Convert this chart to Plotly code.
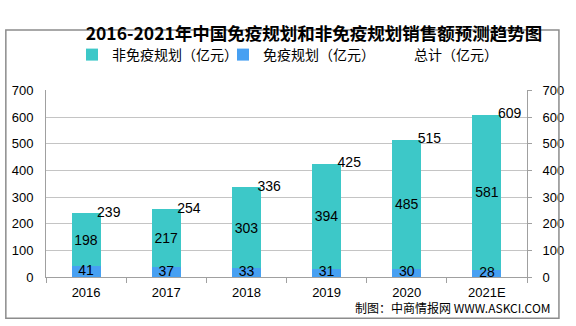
import plotly.graph_objects as go

years = ['2016', '2017', '2018', '2019', '2020', '2021E']
immune = [41, 37, 33, 31, 30, 28]
non_immune = [198, 217, 303, 394, 485, 581]
total = [239, 254, 336, 425, 515, 609]

TEAL = '#3DC8C8'
BLUE = '#47A0F2'
NUM_FONT = 'Liberation Sans, Noto Sans CJK SC, sans-serif'
CJK_FONT = 'Noto Sans CJK SC, sans-serif'

fig = go.Figure()
fig.add_trace(go.Bar(
    x=years, y=immune, name='免疫规划（亿元）', marker=dict(color=BLUE, line=dict(width=0)),
    width=0.362, legendrank=2, hoverinfo='skip'))
fig.add_trace(go.Bar(
    x=years, y=non_immune, name='非免疫规划（亿元）', marker=dict(color=TEAL, line=dict(width=0)),
    width=0.362, text=[str(v) for v in non_immune], textposition='inside',
    insidetextanchor='middle', constraintext='none', textangle=0,
    textfont=dict(color='black', size=14, family=NUM_FONT),
    insidetextfont=dict(color='black', size=14, family=NUM_FONT),
    cliponaxis=False, legendrank=1, hoverinfo='skip'))
# labels for the small blue segments, centred on each segment
fig.add_trace(go.Scatter(
    x=years, y=[v / 2 for v in immune], mode='text', text=[str(v) for v in immune],
    textposition='middle center', textfont=dict(color='black', size=14, family=NUM_FONT),
    showlegend=False, cliponaxis=False, hoverinfo='skip'))
fig.add_trace(go.Scatter(
    x=years, y=total, name='总计（亿元）', mode='markers+text',
    marker=dict(size=16, color='rgba(0,0,0,0)'),
    text=[str(v) for v in total], textposition='middle right',
    textfont=dict(color='black', size=14, family=NUM_FONT),
    yaxis='y2', cliponaxis=False, legendrank=3, hoverinfo='skip'))

W, H = 576, 326
L, R, T, B = 43, 36, 69, 49
pw, ph = W - L - R, H - T - B

def px_x(x):
    return (x - L) / pw

def px_y(y):
    return (H - B - y) / ph

fig.update_layout(
    width=W, height=H,
    margin=dict(l=L, r=R, t=T, b=B),
    paper_bgcolor='white', plot_bgcolor='white',
    barmode='stack',
    showlegend=True,
    title=dict(text='<b>2016-2021年中国免疫规划和非免疫规划销售额预测趋势图</b>',
               font=dict(family=CJK_FONT, size=17.5, color='black'),
               xref='container', x=314 / W, xanchor='center',
               yref='container', y=1 - 34 / H, yanchor='middle'),
    legend=dict(orientation='h', traceorder='normal', itemwidth=30,
                entrywidth=106, entrywidthmode='pixels',
                xref='container', x=72 / W, xanchor='left',
                yref='container', y=1 - 55 / H, yanchor='middle',
                font=dict(family=CJK_FONT, size=14, color='black'),
                bgcolor='rgba(0,0,0,0)', itemclick=False),
    xaxis=dict(type='category', showgrid=False, showline=True, linecolor='#A0A0A0', linewidth=1,
               ticks='outside', tickson='boundaries', ticklen=5, tickcolor='#A0A0A0',
               tickfont=dict(family=NUM_FONT, size=13, color='black'),
               ticklabelstandoff=3, fixedrange=True),
    yaxis=dict(range=[0, 700], dtick=100, showgrid=True, gridcolor='#C4C4C4', gridwidth=1,
               showline=True, linecolor='#A0A0A0', linewidth=1, ticks='', zeroline=False,
               tickfont=dict(family=NUM_FONT, size=13, color='black'),
               ticklabelstandoff=9, fixedrange=True),
    yaxis2=dict(range=[0, 700], dtick=100, overlaying='y', side='right', showgrid=False,
                showline=True, linecolor='#A0A0A0', linewidth=1, ticks='outside', ticklen=4,
                tickcolor='#A0A0A0', zeroline=False,
                tickfont=dict(family=NUM_FONT, size=13, color='black'),
                ticklabelstandoff=8, fixedrange=True),
    shapes=[dict(type='rect', xref='paper', yref='paper',
                 x0=px_x(1.5), x1=px_x(573), y0=px_y(323), y1=px_y(1.5),
                 line=dict(color='#8C8C8C', width=1.5), fillcolor='rgba(0,0,0,0)', layer='above')],
    annotations=[dict(text='制图：中商情报网 WWW.ASKCI.COM', xref='paper', yref='paper',
                      x=px_x(567), y=px_y(311), xanchor='right', yanchor='middle',
                      showarrow=False,
                      font=dict(family='Noto Sans CJK SC, DejaVu Sans Mono, monospace', size=12, color='black'))],
)

fig.write_html('out.html', config={'displayModeBar': False})
